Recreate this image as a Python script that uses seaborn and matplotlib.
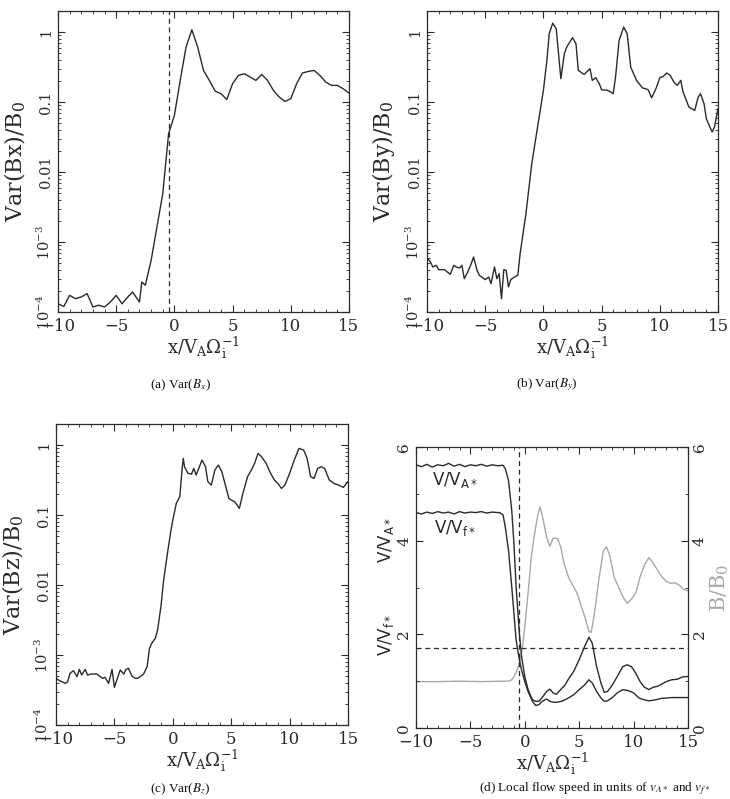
import numpy as np
import matplotlib
matplotlib.use("Agg")
import matplotlib.pyplot as plt
import seaborn as sns
from matplotlib.ticker import MultipleLocator, LogLocator, NullFormatter

# ---------------- data ----------------
x_ticks = [-10, -5, 0, 5, 10, 15]
log_ticks = [1e-4, 1e-3, 0.01, 0.1, 1]
log_labels = [r"10$^{-4}$", r"10$^{-3}$", "0.01", "0.1", "1"]
lin_ticks = [0, 2, 4, 6]

# (a) Var(Bx)
xa = [-10, -9.5, -9, -8.5, -8, -7.5, -7, -6.5, -6, -5.5, -5, -4.5, -4, -3.6, -3, -2.8, -2.5,
      -2, -1.5, -1, -0.5, 0, 0.5, 1, 1.5, 2, 2.5, 3, 3.5, 4, 4.5, 5, 5.5, 6, 6.5, 7, 7.5,
      8, 8.5, 9, 9.5, 10, 10.5, 11, 11.5, 12, 12.5, 13, 13.5, 14, 14.5, 15]
var_bx = [1.31e-4, 1.20e-4, 1.73e-4, 1.55e-4, 1.64e-4, 1.83e-4, 1.18e-4, 1.25e-4, 1.18e-4,
          1.39e-4, 1.73e-4, 1.31e-4, 1.64e-4, 1.93e-4, 1.39e-4, 2.68e-4, 2.41e-4,
          5.47e-4, 1.64e-3, 4.9e-3, 0.0353, 0.0645, 0.204, 0.61, 1.08, 0.61, 0.283, 0.204,
          0.1436, 0.1315, 0.109, 0.183, 0.240, 0.254, 0.228, 0.204, 0.248, 0.204, 0.147,
          0.118, 0.102, 0.1116, 0.183, 0.26, 0.274, 0.283, 0.240, 0.193, 0.173, 0.173,
          0.155, 0.1345]

# (b) Var(By)
xb = [-10, -9.7, -9.5, -9.2, -9, -8.5, -8, -7.7, -7.5, -7.2, -7, -6.8, -6.5, -6.2, -6,
      -5.7, -5.5, -5, -4.7, -4.5, -4.2, -4, -3.8, -3.6, -3.4, -3.2, -3, -2.8, -2.5, -2.2,
      -2, -1.5, -1, -0.5, 0, 0.3, 0.5, 0.8, 1.1, 1.5, 1.8, 2, 2.5, 2.8, 3, 3.5, 4, 4.2,
      4.5, 4.8, 5, 5.5, 5.8, 6, 6.2, 6.5, 6.9, 7.2, 7.5, 8, 8.5, 9, 9.3, 9.7, 10, 10.3,
      10.6, 10.9, 11.2, 11.5, 11.8, 12, 12.5, 13, 13.3, 13.5, 13.8, 14, 14.3, 14.5, 14.7, 15]
var_by = [5.97e-4, 5.18e-4, 4.40e-4, 4.64e-4, 4.03e-4, 4.03e-4, 3.45e-4, 4.64e-4, 4.40e-4,
          4.25e-4, 4.64e-4, 2.99e-4, 3.73e-4, 4.90e-4, 6.11e-4, 3.94e-4, 3.34e-4, 2.90e-4,
          3.16e-4, 2.54e-4, 4.40e-4, 2.99e-4, 3.53e-4, 1.55e-4, 4.03e-4, 3.94e-4, 2.28e-4,
          2.90e-4, 3.16e-4, 3.34e-4, 6.81e-4, 2.54e-3, 0.01315, 0.0440, 0.147, 0.394, 0.946,
          1.34, 1.12, 0.216, 0.49, 0.61, 0.83, 0.68, 0.283, 0.248, 0.30, 0.204, 0.223, 0.183,
          0.150, 0.147, 0.139, 0.1315, 0.228, 0.76, 1.18, 0.946, 0.316, 0.204, 0.160, 0.150,
          0.115, 0.160, 0.223, 0.233, 0.26, 0.240, 0.193, 0.173, 0.204, 0.139, 0.085, 0.076,
          0.118, 0.1315, 0.0946, 0.0578, 0.044, 0.0373, 0.044, 0.080]

# (c) Var(Bz)
xc = [-10, -9.7, -9.5, -9.2, -9, -8.8, -8.5, -8.2, -8, -7.8, -7.5, -7.3, -7, -6.5, -6, -5.8,
      -5.5, -5.2, -5, -4.7, -4.5, -4.2, -4, -3.8, -3.5, -3.2, -3, -2.8, -2.5, -2.2, -2, -1.8,
      -1.5, -1.3, -1.0, -0.8, -0.5, -0.2, 0, 0.3, 0.6, 0.8, 0.9, 1.0, 1.3, 1.6, 1.8, 2.0,
      2.5, 2.8, 3.0, 3.3, 3.6, 3.9, 4.2, 4.5, 4.8, 5.0, 5.3, 5.7, 6, 6.4, 6.8, 7.0, 7.3,
      7.6, 8, 8.3, 8.7, 9, 9.3, 9.6, 10, 10.4, 10.8, 11.2, 11.5, 11.8, 12.1, 12.4, 12.7, 13,
      13.4, 13.8, 14.2, 14.6, 15]
var_bz = [4.64e-4, 4.30e-4, 4.16e-4, 3.94e-4, 4.16e-4, 5.47e-4, 5.97e-4, 4.90e-4, 6.24e-4,
          5.18e-4, 6.24e-4, 5.18e-4, 5.35e-4, 5.35e-4, 4.64e-4, 4.80e-4, 3.94e-4, 6.24e-4,
          3.45e-4, 4.90e-4, 6.11e-4, 5.35e-4, 6.24e-4, 6.45e-4, 5.01e-4, 4.64e-4, 4.64e-4,
          4.90e-4, 5.35e-4, 6.81e-4, 1.245e-3, 1.47e-3, 1.73e-3, 2.28e-3, 5.18e-3, 0.01116,
          0.0254, 0.0547, 0.0849, 0.147, 0.183, 0.464, 0.645, 0.49, 0.394, 0.385, 0.464,
          0.373, 0.61, 0.49, 0.30, 0.268, 0.44, 0.518, 0.416, 0.268, 0.173, 0.164, 0.155,
          0.1245, 0.204, 0.353, 0.464, 0.547, 0.76, 0.68, 0.547, 0.416, 0.316, 0.283, 0.240,
          0.268, 0.394, 0.61, 0.896, 0.849, 0.645, 0.353, 0.334, 0.464, 0.49, 0.464, 0.316,
          0.283, 0.268, 0.248, 0.30]

# (d) local flow speed and B/B0
xd = [-10, -9.5, -9, -8.5, -8, -7.5, -7, -6.5, -6, -5.5, -5, -4.5, -4, -3.5, -3, -2.5,
      -2, -1.8, -1.5, -1.2, -1, -0.8, -0.5, -0.3, 0, 0.3, 0.7, 1, 1.3, 1.6, 2, 2.3, 2.6,
      2.9, 3.3, 3.7, 4, 4.5, 5, 5.5, 5.9, 6.2, 6.6, 7.0, 7.3, 7.6, 8, 8.5, 9, 9.4, 9.8,
      10.2, 10.6, 11, 11.4, 11.8, 12.2, 12.6, 13, 13.5, 14, 14.5, 15]
v_va = [5.62, 5.58, 5.63, 5.57, 5.62, 5.60, 5.65, 5.59, 5.63, 5.58, 5.62, 5.60, 5.63, 5.59,
        5.62, 5.60, 5.61, 5.54, 5.29, 4.65, 3.94, 3.02, 2.02, 1.53, 1.10, 0.82, 0.60, 0.57,
        0.57, 0.65, 0.78, 0.83, 0.75, 0.72, 0.82, 0.92, 1.04, 1.21, 1.46, 1.74, 1.94, 1.81,
        1.31, 0.96, 0.76, 0.78, 0.90, 1.10, 1.31, 1.35, 1.31, 1.17, 0.99, 0.87, 0.82, 0.87,
        0.89, 0.94, 0.99, 1.03, 1.04, 1.09, 1.10]
xf = [-10, -9.5, -9, -8.5, -8, -7.5, -7, -6.5, -6, -5.5, -5, -4.5, -4, -3.5, -3, -2.5,
      -2.3, -2, -1.8, -1.5, -1.2, -1, -0.8, -0.5, -0.3, 0, 0.3, 0.7, 1, 1.3, 1.6, 2, 2.3,
      2.6, 3, 3.5, 4, 4.5, 5, 5.5, 5.9, 6.2, 6.6, 7, 7.3, 7.6, 8, 8.5, 9, 9.5, 10, 10.5,
      11, 11.4, 12, 12.5, 13, 13.5, 14, 14.5, 15]
v_vf = [4.60, 4.57, 4.61, 4.58, 4.62, 4.59, 4.61, 4.57, 4.62, 4.59, 4.61, 4.60, 4.62, 4.59,
        4.61, 4.60, 4.60, 4.55, 4.30, 3.80, 3.02, 2.45, 1.88, 1.46, 1.24, 0.99, 0.78, 0.57,
        0.48, 0.50, 0.57, 0.62, 0.57, 0.55, 0.55, 0.58, 0.64, 0.71, 0.82, 0.92, 1.03, 0.96,
        0.78, 0.64, 0.57, 0.58, 0.64, 0.75, 0.82, 0.80, 0.75, 0.64, 0.60, 0.58, 0.60, 0.63,
        0.64, 0.65, 0.65, 0.65, 0.65]
xbb = [-10, -8, -6, -4, -2, -1.5, -1.2, -1, -0.7, -0.4, -0.2, 0, 0.3, 0.6, 0.9, 1.2, 1.4,
       1.7, 2.0, 2.3, 2.6, 3, 3.3, 3.6, 4, 4.4, 4.8, 5.2, 5.6, 5.9, 6.1, 6.4, 6.8, 7.2, 7.5,
       7.8, 8.2, 8.6, 9, 9.4, 9.8, 10.2, 10.6, 11, 11.4, 11.8, 12.2, 12.6, 13, 13.4, 13.8,
       14.2, 14.6, 15]
b_b0 = [0.99, 0.99, 1.0, 0.99, 1.0, 1.0, 1.03, 1.10, 1.24, 1.46, 1.74, 2.17, 2.88, 3.66,
        4.15, 4.55, 4.72, 4.44, 4.08, 3.88, 4.05, 4.05, 3.87, 3.52, 3.23, 3.05, 2.88, 2.59,
        2.31, 2.06, 2.04, 2.45, 3.16, 3.76, 3.87, 3.69, 3.23, 3.02, 2.81, 2.66, 2.75, 2.88,
        3.23, 3.48, 3.64, 3.52, 3.37, 3.23, 3.13, 3.09, 3.10, 3.05, 2.96, 2.93]

shock_x = -0.5
crit_level = 1.7

captions = [r"(a) Var($B_x$)", r"(b) Var($B_y$)", r"(c) Var($B_z$)",
            r"(d) Local flow speed in units of $v_{A*}$ and $v_{f*}$"]

# ---------------- style ----------------
sns.set_style("ticks")
plt.rcParams["font.family"] = ["DejaVu Serif"]
plt.rcParams["mathtext.fontset"] = "dejavuserif"

INK = "#2a2a2a"
GRAY = "#a8a8a8"
W, H = 730, 799
fig = plt.figure(figsize=(W / 100, H / 100), dpi=100)


def rect(l, t, r, b):
    return [l / W, (H - b) / H, (r - l) / W, (b - t) / H]


def style(ax):
    ax.set_xlim(-10, 15)
    ax.set_xticks(x_ticks)
    ax.xaxis.set_minor_locator(MultipleLocator(1))
    ax.tick_params(which="both", direction="in", top=True, right=True, color=INK,
                   labelcolor=INK)
    ax.tick_params(axis="x", labelsize=12, pad=4)
    ax.tick_params(which="major", length=5, width=0.8)
    ax.tick_params(which="minor", length=2.5, width=0.6)
    for s in ax.spines.values():
        s.set_color(INK)
        s.set_linewidth(0.9)
    ax.set_xlabel(r"x/V$_\mathrm{A}\Omega_\mathrm{i}^{-1}$", fontsize=13, labelpad=0,
                  color=INK)


def var_panel(r, x, y, ylabel, vline=None):
    ax = fig.add_axes(r)
    sns.lineplot(x=x, y=y, ax=ax, color=INK, lw=1.0)
    ax.set_yscale("log")
    ax.set_ylim(1e-4, 2)
    ax.set_yticks(log_ticks, log_labels, rotation=90, va="center", fontsize=10.5)
    ax.yaxis.set_minor_locator(LogLocator(base=10, subs=np.arange(2, 10)))
    ax.yaxis.set_minor_formatter(NullFormatter())
    style(ax)
    ax.set_ylabel(ylabel, fontsize=16, color=INK, labelpad=6)
    if vline is not None:
        ax.axvline(vline, ls="--", color=INK, lw=0.9, dashes=(4, 3))
    return ax


var_panel(rect(58, 11, 349, 312), xa, var_bx, r"Var(Bx)/B$_0$", vline=shock_x)
var_panel(rect(427, 11, 718, 312), xb, var_by, r"Var(By)/B$_0$")
var_panel(rect(56, 424, 348, 725), xc, var_bz, r"Var(Bz)/B$_0$")

# panel d
axd = fig.add_axes(rect(416, 447, 688, 728))
sns.lineplot(x=xd, y=v_va, ax=axd, color=INK, lw=1.0)
sns.lineplot(x=xf, y=v_vf, ax=axd, color=INK, lw=1.0)
axd.axvline(shock_x, ls="--", color=INK, lw=0.9, dashes=(4, 3))
axd.axhline(crit_level, ls="--", color=INK, lw=0.9, dashes=(4, 3))
axd.set_ylim(0, 6)
axd.set_yticks(lin_ticks, [str(t) for t in lin_ticks], rotation=90, va="center",
               fontsize=11)
axd.yaxis.set_minor_locator(MultipleLocator(1))
style(axd)
axd.tick_params(right=False, which="both")
axd.text(-6.4, 5.29, r"V/V$_{\mathrm{A}*}$", family="DejaVu Sans",
         math_fontfamily="dejavusans", fontsize=12, ha="center", va="center", color=INK)
axd.text(-6.4, 4.26, r"V/V$_{\mathrm{f}*}$", family="DejaVu Sans",
         math_fontfamily="dejavusans", fontsize=12, ha="center", va="center", color=INK)

ax2 = axd.twinx()
sns.lineplot(x=xbb, y=b_b0, ax=ax2, color=GRAY, lw=1.0)
ax2.set_ylim(0, 6)
ax2.set_yticks(lin_ticks, [str(t) for t in lin_ticks], rotation=90, va="center",
               fontsize=11)
ax2.yaxis.set_minor_locator(MultipleLocator(1))
ax2.tick_params(which="both", direction="in", color=INK, labelcolor=INK)
ax2.tick_params(which="major", length=5, width=0.8)
ax2.tick_params(which="minor", length=2.5, width=0.6)
for s in ax2.spines.values():
    s.set_visible(False)
ax2.set_ylabel("")
axd.set_zorder(ax2.get_zorder() + 1)
axd.patch.set_visible(False)

fig.text(386 / W, (H - 540) / H, r"V/V$_{\mathrm{A}*}$", family="DejaVu Sans",
         math_fontfamily="dejavusans", fontsize=12, rotation=90, ha="center",
         va="center", color=INK)
fig.text(386 / W, (H - 635) / H, r"V/V$_{\mathrm{f}*}$", family="DejaVu Sans",
         math_fontfamily="dejavusans", fontsize=12, rotation=90, ha="center",
         va="center", color=INK)
fig.text(720 / W, (H - 588) / H, r"B/B$_0$", fontsize=15, rotation=90, ha="center",
         va="center", color=GRAY)

# captions
cap_kw = dict(family="Liberation Serif", math_fontfamily="stix", fontsize=9.5,
              ha="center", color="#111111")
fig.text(180 / W, (H - 385) / H, captions[0], va="center", **cap_kw)
fig.text(547 / W, (H - 385) / H, captions[1], va="center", **cap_kw)
fig.text(180 / W, 2 / H, captions[2], va="bottom", **cap_kw)
fig.text(595 / W, 2 / H, captions[3], va="bottom", **cap_kw)

fig.savefig("out.png", dpi=100)
